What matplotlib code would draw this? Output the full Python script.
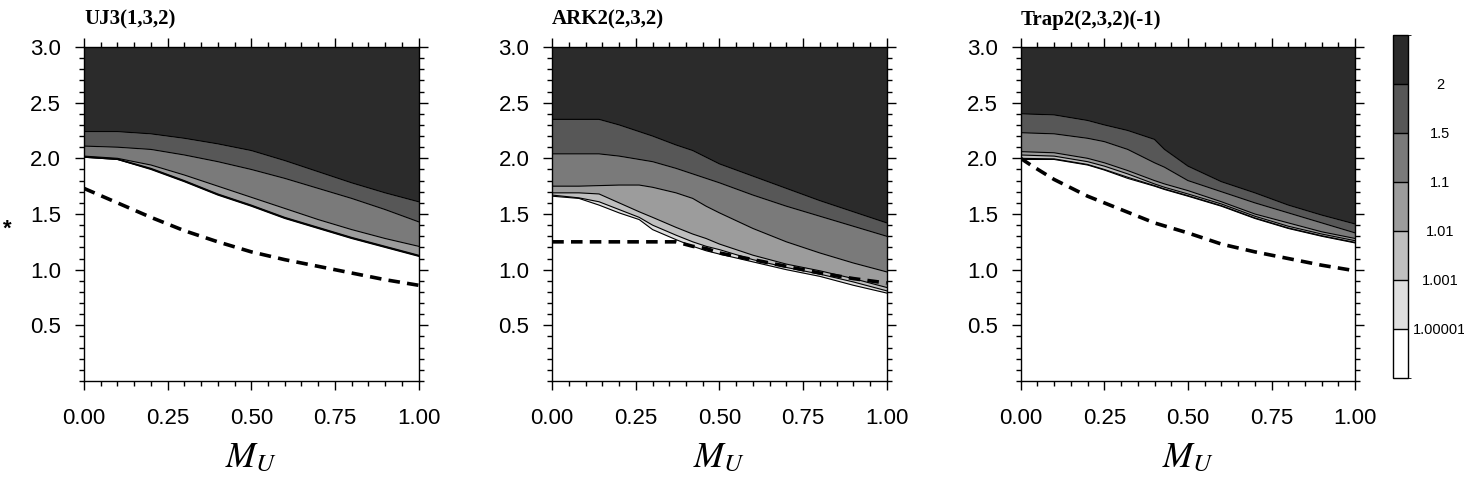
import numpy as np
import matplotlib
matplotlib.use("Agg")
import matplotlib.pyplot as plt
from matplotlib.ticker import MultipleLocator, FormatStrFormatter
from matplotlib.colors import ListedColormap, BoundaryNorm
from matplotlib.cm import ScalarMappable

# contour levels and their fill colours (lowest band first)
level_labels = ["1.00001", "1.001", "1.01", "1.1", "1.5", "2"]
band_colors = ["#ffffff", "#dedede", "#bfbfbf", "#9c9c9c", "#7a7a7a", "#575757", "#2b2b2b"]

titles = ["UJ3(1,3,2)", "ARK2(2,3,2)", "Trap2(2,3,2)(-1)"]

# UJ3(1,3,2): level curves
uj3_x = [0.0, 0.1, 0.2, 0.3, 0.4, 0.5, 0.6, 0.7, 0.8, 0.9, 1.0]
uj3_levels = [
    [2.01, 1.99, 1.90, 1.79, 1.67, 1.57, 1.46, 1.37, 1.28, 1.20, 1.12],         # 1.00001
    [2.01, 1.99, 1.905, 1.795, 1.675, 1.575, 1.465, 1.375, 1.285, 1.205, 1.125],  # 1.001
    [2.015, 1.995, 1.91, 1.80, 1.68, 1.58, 1.47, 1.38, 1.29, 1.21, 1.13],       # 1.01
    [2.02, 2.00, 1.94, 1.85, 1.75, 1.65, 1.55, 1.45, 1.36, 1.28, 1.21],         # 1.1
    [2.11, 2.10, 2.08, 2.03, 1.97, 1.90, 1.82, 1.73, 1.64, 1.54, 1.43],         # 1.5
    [2.24, 2.24, 2.22, 2.18, 2.13, 2.07, 1.98, 1.88, 1.78, 1.69, 1.61],         # 2
]
uj3_dash_x = [0.0, 0.1, 0.2, 0.3, 0.4, 0.5, 0.6, 0.7, 0.8, 0.9, 1.0]
uj3_dash_y = [1.73, 1.60, 1.47, 1.35, 1.25, 1.16, 1.09, 1.03, 0.97, 0.91, 0.86]

# ARK2(2,3,2)
ark2_x = [0.0, 0.08, 0.14, 0.2, 0.26, 0.3, 0.37, 0.42, 0.46, 0.5, 0.6, 0.7, 0.8, 0.9, 1.0]
ark2_levels = [
    [1.66, 1.64, 1.58, 1.51, 1.45, 1.36, 1.27, 1.21, 1.17, 1.14, 1.07, 1.00, 0.94, 0.86, 0.79],
    [1.67, 1.645, 1.61, 1.54, 1.47, 1.40, 1.31, 1.25, 1.21, 1.18, 1.09, 1.02, 0.96, 0.89, 0.81],
    [1.69, 1.69, 1.68, 1.60, 1.52, 1.47, 1.38, 1.32, 1.28, 1.23, 1.13, 1.05, 0.99, 0.92, 0.84],
    [1.75, 1.75, 1.755, 1.76, 1.76, 1.74, 1.69, 1.64, 1.57, 1.51, 1.37, 1.25, 1.15, 1.06, 0.98],
    [2.04, 2.04, 2.04, 2.02, 1.99, 1.97, 1.91, 1.86, 1.82, 1.78, 1.67, 1.57, 1.48, 1.39, 1.30],
    [2.35, 2.35, 2.35, 2.30, 2.24, 2.20, 2.12, 2.07, 2.01, 1.95, 1.84, 1.73, 1.62, 1.52, 1.42],
]
ark2_dash_x = [0.0, 0.37, 0.42, 0.46, 0.5, 0.6, 0.7, 0.8, 0.9, 1.0]
ark2_dash_y = [1.25, 1.25, 1.21, 1.19, 1.15, 1.09, 1.03, 0.97, 0.92, 0.88]

# Trap2(2,3,2)(-1)
trap2_x = [0.0, 0.1, 0.2, 0.25, 0.32, 0.4, 0.43, 0.5, 0.6, 0.7, 0.8, 0.9, 1.0]
trap2_levels = [
    [1.99, 1.99, 1.94, 1.895, 1.82, 1.75, 1.72, 1.66, 1.57, 1.46, 1.37, 1.30, 1.24],
    [2.00, 1.995, 1.945, 1.90, 1.83, 1.755, 1.725, 1.665, 1.575, 1.465, 1.375, 1.305, 1.245],
    [2.03, 2.02, 1.97, 1.93, 1.86, 1.77, 1.74, 1.68, 1.59, 1.48, 1.39, 1.32, 1.26],
    [2.06, 2.05, 2.00, 1.96, 1.89, 1.80, 1.77, 1.71, 1.61, 1.50, 1.42, 1.34, 1.28],
    [2.23, 2.22, 2.18, 2.15, 2.08, 1.96, 1.92, 1.80, 1.70, 1.60, 1.51, 1.42, 1.33],
    [2.40, 2.39, 2.34, 2.30, 2.25, 2.17, 2.08, 1.93, 1.79, 1.69, 1.58, 1.49, 1.41],
]
trap2_dash_x = [0.0, 0.03, 0.1, 0.2, 0.3, 0.4, 0.5, 0.6, 0.7, 0.8, 0.9, 1.0]
trap2_dash_y = [2.0, 1.94, 1.81, 1.66, 1.54, 1.42, 1.33, 1.23, 1.16, 1.10, 1.04, 0.99]

panels = [
    (uj3_x, uj3_levels, uj3_dash_x, uj3_dash_y),
    (ark2_x, ark2_levels, ark2_dash_x, ark2_dash_y),
    (trap2_x, trap2_levels, trap2_dash_x, trap2_dash_y),
]

plt.rcParams["font.family"] = ["Liberation Sans", "DejaVu Sans"]
plt.rcParams["mathtext.fontset"] = "stix"

fig = plt.figure(figsize=(14.64, 4.82), dpi=100)
lefts = [0.0574, 0.3772, 0.6972]
ymax = 3.0

for iP, (xs, levs, dx, dy) in enumerate(panels):
    ax = fig.add_axes([lefts[iP], 0.2095, 0.2285, 0.693])
    xs = np.array(xs)
    # bands between successive levels, then everything above the top level
    for iL in range(len(levs) - 1):
        ax.fill_between(xs, levs[iL], levs[iL + 1], color=band_colors[iL + 1], lw=0)
    ax.fill_between(xs, levs[-1], ymax, color=band_colors[-1], lw=0)
    for lev in levs:
        ax.plot(xs, lev, color="black", lw=0.8)
    ax.plot(dx, dy, color="black", lw=2.6, dashes=(3.2, 2))

    ax.set_xlim(0, 1)
    ax.set_ylim(0, ymax)
    ax.set_xticks([0, 0.25, 0.5, 0.75, 1.0])
    ax.set_yticks([0.5, 1.0, 1.5, 2.0, 2.5, 3.0])
    ax.xaxis.set_major_formatter(FormatStrFormatter("%.2f"))
    ax.yaxis.set_major_formatter(FormatStrFormatter("%.1f"))
    ax.xaxis.set_minor_locator(MultipleLocator(0.05))
    ax.yaxis.set_minor_locator(MultipleLocator(0.1))
    ax.tick_params(which="both", direction="out", top=True, right=True, width=1.0)
    ax.tick_params(which="major", length=6.5, labelsize=16, pad=10)
    ax.tick_params(axis="x", which="major", pad=13)
    ax.tick_params(which="minor", length=3.5)
    for sp in ax.spines.values():
        sp.set_linewidth(1.0)
    ax.set_xlabel("$M_U$", fontsize=26, labelpad=8)
    ax.set_title(titles[iP], loc="left", fontsize=15, fontweight="bold",
                 family="Liberation Serif", pad=16)

fig.text(0.002, 0.525, "*", fontsize=16, fontweight="bold", va="center")

# colour key
cax = fig.add_axes([0.9515, 0.2158, 0.0102, 0.7116])
bounds = np.arange(len(band_colors) + 1)
cmap = ListedColormap(band_colors)
sm = ScalarMappable(norm=BoundaryNorm(bounds, cmap.N), cmap=cmap)
cb = fig.colorbar(sm, cax=cax, boundaries=bounds, drawedges=True)
cb.outline.set_linewidth(1.0)
cb.dividers.set_linewidth(1.0)
cb.set_ticks(bounds[1:-1])
cb.set_ticklabels(level_labels)
cax.tick_params(length=0, labelsize=10.5, pad=23)
for lbl in cax.get_yticklabels():
    lbl.set_horizontalalignment("center")

fig.savefig("out.png", dpi=100)
